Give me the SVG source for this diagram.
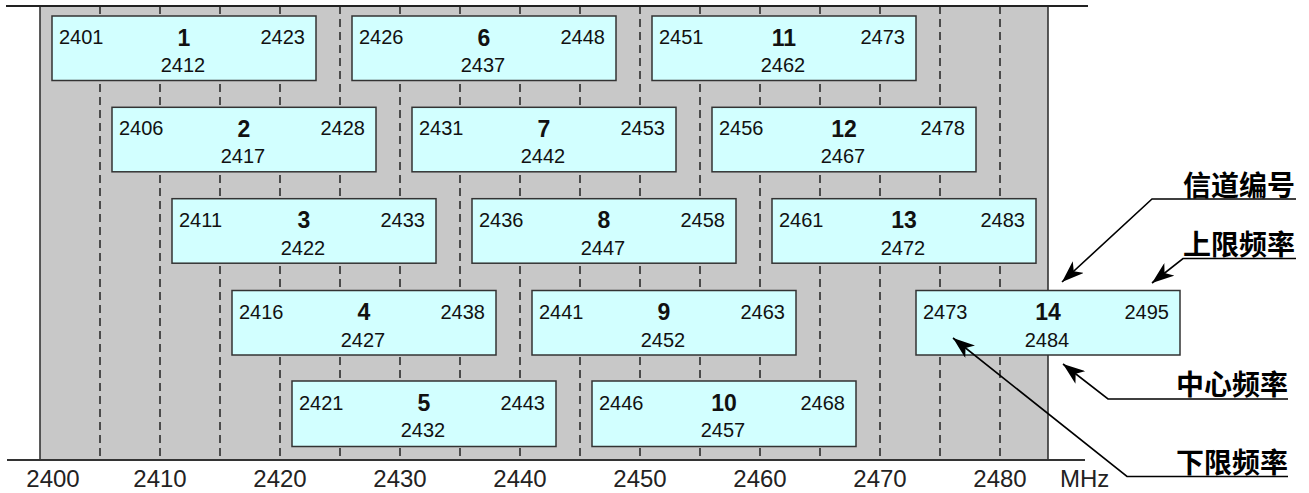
<svg xmlns="http://www.w3.org/2000/svg" width="1309" height="493" viewBox="0 0 1309 493">
<style>
.bg{fill:#c8c8c8}
.edge{stroke:#333;stroke-width:1.6;fill:none}
.dash{stroke:#222;stroke-width:1.5;stroke-dasharray:8 5;fill:none}
.box{fill:#d2ffff;stroke:#333;stroke-width:1.5}
text{font-family:"Liberation Sans",Arial,sans-serif;fill:#111}
.num{font-size:20px}
.end{text-anchor:end}
.mid{text-anchor:middle}
.ch{font-size:23px;font-weight:bold;text-anchor:middle}
.ax{font-size:24px;text-anchor:middle;fill:#222}
.cjk{font-family:"Noto Sans CJK SC",sans-serif;font-size:28px;font-weight:bold;fill:#000}
.lead{stroke:#000;stroke-width:1.6;fill:none}
</style>
<defs>
<marker id="ah" markerUnits="userSpaceOnUse" markerWidth="22" markerHeight="16" viewBox="0 0 22 16" refX="22" refY="8" orient="auto">
<path d="M0,0 L22,8 L0,16 L6,8 z" fill="#000"/>
</marker>
</defs>
<g id="background">
<rect class="bg" x="40" y="6" width="1008" height="454"/>
<line class="edge" x1="40" y1="6" x2="40" y2="460"/>
<line class="edge" x1="1048" y1="6" x2="1048" y2="460"/>
<g id="gridlines">
<line class="dash" x1="100" y1="6" x2="100" y2="460"/>
<line class="dash" x1="160" y1="6" x2="160" y2="460"/>
<line class="dash" x1="220" y1="6" x2="220" y2="460"/>
<line class="dash" x1="280" y1="6" x2="280" y2="460"/>
<line class="dash" x1="340" y1="6" x2="340" y2="460"/>
<line class="dash" x1="400" y1="6" x2="400" y2="460"/>
<line class="dash" x1="460" y1="6" x2="460" y2="460"/>
<line class="dash" x1="520" y1="6" x2="520" y2="460"/>
<line class="dash" x1="580" y1="6" x2="580" y2="460"/>
<line class="dash" x1="640" y1="6" x2="640" y2="460"/>
<line class="dash" x1="700" y1="6" x2="700" y2="460"/>
<line class="dash" x1="760" y1="6" x2="760" y2="460"/>
<line class="dash" x1="820" y1="6" x2="820" y2="460"/>
<line class="dash" x1="880" y1="6" x2="880" y2="460"/>
<line class="dash" x1="940" y1="6" x2="940" y2="460"/>
<line class="dash" x1="1000" y1="6" x2="1000" y2="460"/>
</g>
<line x1="6" y1="6" x2="1088" y2="6" stroke="#222" stroke-width="2"/>
<line x1="7" y1="460" x2="1085" y2="460" stroke="#333" stroke-width="2"/>
</g>
<g id="axis-labels">
<text class="ax" x="53" y="487">2400</text>
<text class="ax" x="160" y="487">2410</text>
<text class="ax" x="280" y="487">2420</text>
<text class="ax" x="400" y="487">2430</text>
<text class="ax" x="520" y="487">2440</text>
<text class="ax" x="640" y="487">2450</text>
<text class="ax" x="760" y="487">2460</text>
<text class="ax" x="880" y="487">2470</text>
<text class="ax" x="1000" y="487">2480</text>
<text class="ax" x="1060" y="487" style="text-anchor:start">MHz</text>
</g>
<g id="ch1"><rect class="box" x="52" y="16" width="264" height="64.5"/><text class="num" x="59" y="44">2401</text><text class="ch" x="184" y="45.5">1</text><text class="num end" x="305" y="44">2423</text><text class="num mid" x="183" y="72">2412</text></g>
<g id="ch2"><rect class="box" x="112" y="107.3" width="264" height="64.5"/><text class="num" x="119" y="135.3">2406</text><text class="ch" x="244" y="136.8">2</text><text class="num end" x="365" y="135.3">2428</text><text class="num mid" x="243" y="163.3">2417</text></g>
<g id="ch3"><rect class="box" x="172" y="198.7" width="264" height="64.5"/><text class="num" x="179" y="226.7">2411</text><text class="ch" x="304" y="228.2">3</text><text class="num end" x="425" y="226.7">2433</text><text class="num mid" x="303" y="254.7">2422</text></g>
<g id="ch4"><rect class="box" x="232" y="290.5" width="264" height="64.5"/><text class="num" x="239" y="318.5">2416</text><text class="ch" x="364" y="320">4</text><text class="num end" x="485" y="318.5">2438</text><text class="num mid" x="363" y="346.5">2427</text></g>
<g id="ch5"><rect class="box" x="292" y="381" width="264" height="65.5"/><text class="num" x="299" y="409.5">2421</text><text class="ch" x="424" y="411">5</text><text class="num end" x="545" y="409.5">2443</text><text class="num mid" x="423" y="437">2432</text></g>
<g id="ch6"><rect class="box" x="352" y="16" width="264" height="64.5"/><text class="num" x="359" y="44">2426</text><text class="ch" x="484" y="45.5">6</text><text class="num end" x="605" y="44">2448</text><text class="num mid" x="483" y="72">2437</text></g>
<g id="ch7"><rect class="box" x="412" y="107.3" width="264" height="64.5"/><text class="num" x="419" y="135.3">2431</text><text class="ch" x="544" y="136.8">7</text><text class="num end" x="665" y="135.3">2453</text><text class="num mid" x="543" y="163.3">2442</text></g>
<g id="ch8"><rect class="box" x="472" y="198.7" width="264" height="64.5"/><text class="num" x="479" y="226.7">2436</text><text class="ch" x="604" y="228.2">8</text><text class="num end" x="725" y="226.7">2458</text><text class="num mid" x="603" y="254.7">2447</text></g>
<g id="ch9"><rect class="box" x="532" y="290.5" width="264" height="64.5"/><text class="num" x="539" y="318.5">2441</text><text class="ch" x="664" y="320">9</text><text class="num end" x="785" y="318.5">2463</text><text class="num mid" x="663" y="346.5">2452</text></g>
<g id="ch10"><rect class="box" x="592" y="381" width="264" height="65.5"/><text class="num" x="599" y="409.5">2446</text><text class="ch" x="724" y="411">10</text><text class="num end" x="845" y="409.5">2468</text><text class="num mid" x="723" y="437">2457</text></g>
<g id="ch11"><rect class="box" x="652" y="16" width="264" height="64.5"/><text class="num" x="659" y="44">2451</text><text class="ch" x="784" y="45.5">11</text><text class="num end" x="905" y="44">2473</text><text class="num mid" x="783" y="72">2462</text></g>
<g id="ch12"><rect class="box" x="712" y="107.3" width="264" height="64.5"/><text class="num" x="719" y="135.3">2456</text><text class="ch" x="844" y="136.8">12</text><text class="num end" x="965" y="135.3">2478</text><text class="num mid" x="843" y="163.3">2467</text></g>
<g id="ch13"><rect class="box" x="772" y="198.7" width="264" height="64.5"/><text class="num" x="779" y="226.7">2461</text><text class="ch" x="904" y="228.2">13</text><text class="num end" x="1025" y="226.7">2483</text><text class="num mid" x="903" y="254.7">2472</text></g>
<g id="ch14"><rect class="box" x="916" y="290.5" width="264" height="64.5"/><text class="num" x="923" y="318.5">2473</text><text class="ch" x="1048" y="320">14</text><text class="num end" x="1169" y="318.5">2495</text><text class="num mid" x="1047" y="346.5">2484</text></g>
<g id="legend-labels">
<text class="cjk" x="1183" y="196">信道编号</text>
<text class="cjk" x="1183" y="255">上限频率</text>
<text class="cjk" x="1176" y="395">中心频率</text>
<text class="cjk" x="1176" y="473">下限频率</text>
</g>
<g id="connectors">
<polyline class="lead" points="1296,199 1152,199 1062,282" marker-end="url(#ah)"/>
<polyline class="lead" points="1296,258.5 1183,258.5 1152,283" marker-end="url(#ah)"/>
<polyline class="lead" points="1288,399 1108,399 1063,364" marker-end="url(#ah)"/>
<polyline class="lead" points="1288,476.5 1127,476.5 953,338" marker-end="url(#ah)"/>
</g>
</svg>
